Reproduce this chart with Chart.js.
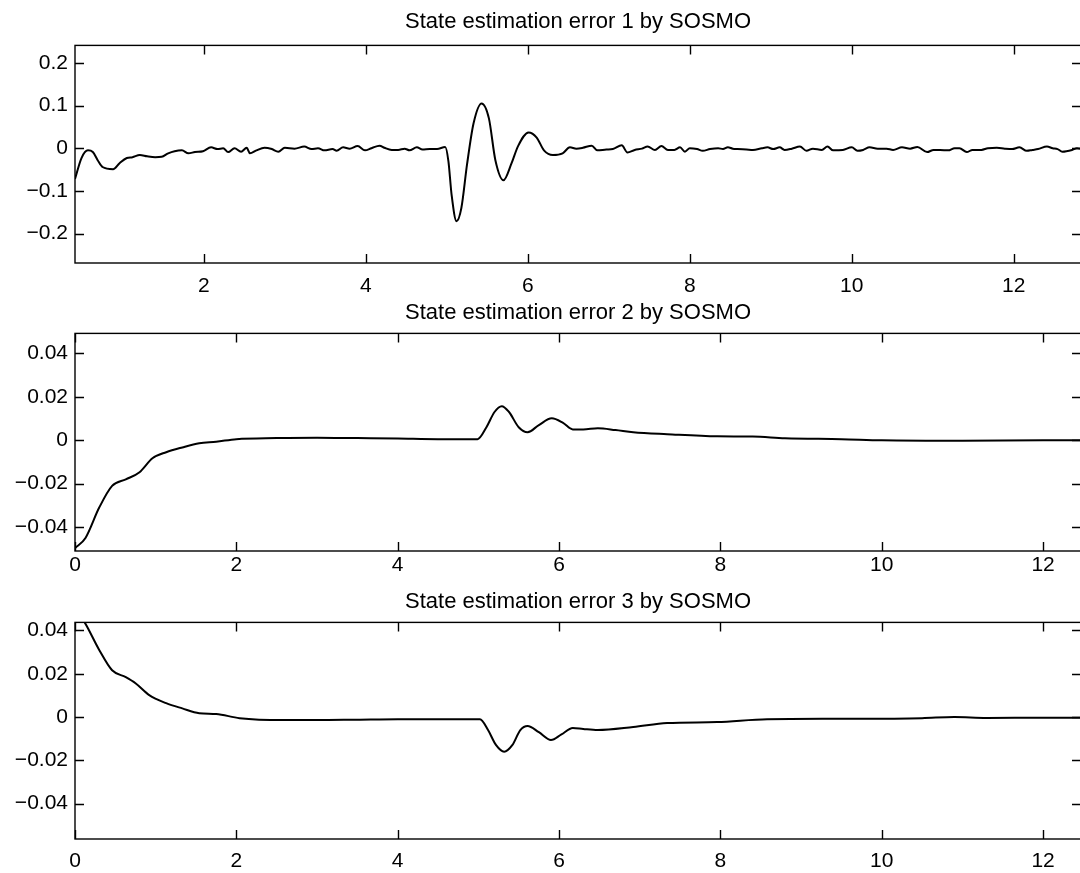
<!DOCTYPE html>
<html>
<head>
<meta charset="utf-8">
<script src="https://cdn.jsdelivr.net/npm/chart.js@4.4.0/dist/chart.umd.min.js"></script>
<style>
  html, body { margin:0; padding:0; background:#fff; }
  body { width:1080px; height:873px; overflow:hidden; position:relative; }
  canvas { position:absolute; left:0; }
</style>
</head>
<body>
<canvas id="p1" width="1090" height="298" style="top:0px"></canvas>
<canvas id="p2" width="1090" height="289" style="top:298px"></canvas>
<canvas id="p3" width="1090" height="286" style="top:587px"></canvas>
<script>
// ---- data ----
const titles = [
  "State estimation error 1 by SOSMO",
  "State estimation error 2 by SOSMO",
  "State estimation error 3 by SOSMO"
];

const time1 = [0.41,0.49,0.57,0.63,0.69,0.75,0.88,0.96,1.05,1.12,1.21,1.30,1.40,1.48,1.56,1.64,1.73,1.81,1.89,1.99,
  2.09,2.17,2.24,2.30,2.38,2.46,2.53,2.57,2.65,2.75,2.84,2.92,3.00,3.12,3.24,3.33,3.41,3.49,3.59,3.64,
  3.72,3.80,3.90,3.99,4.07,4.17,4.23,4.32,4.40,4.48,4.54,4.63,4.70,4.79,4.88,4.98,
  5.02,5.06,5.12,5.18,5.25,5.33,5.43,5.52,5.60,5.70,5.80,5.88,6.01,6.11,6.20,6.31,6.43,6.52,
  6.60,6.68,6.79,6.86,6.97,7.05,7.16,7.23,7.32,7.41,7.48,7.57,7.65,7.73,7.81,7.88,7.94,8.00,8.09,8.16,
  8.25,8.35,8.41,8.47,8.53,8.59,8.70,8.78,8.89,8.96,9.03,9.11,9.17,9.26,9.36,9.44,9.52,9.63,9.70,9.77,
  9.89,10.00,10.07,10.14,10.22,10.32,10.43,10.51,10.62,10.72,10.81,10.93,11.01,11.09,11.19,11.27,11.33,
  11.42,11.49,11.60,11.68,11.79,11.89,11.98,12.07,12.16,12.23,12.30,12.41,12.48,12.54,12.60,12.72,12.78,12.85];
const err1 = [-0.072,-0.023,-0.005,-0.009,-0.028,-0.044,-0.049,-0.035,-0.023,-0.021,-0.016,-0.019,-0.021,-0.020,-0.012,-0.007,-0.005,-0.012,-0.009,-0.007,
  0.002,-0.002,0.000,-0.009,0.000,-0.008,0.001,-0.012,-0.005,0.001,-0.002,-0.008,0.001,-0.001,0.004,-0.002,0.000,-0.005,-0.002,-0.006,
  0.002,-0.001,0.005,-0.005,0.000,0.006,0.001,-0.004,-0.004,-0.001,-0.005,0.002,-0.003,-0.002,-0.002,0.003,
  -0.030,-0.110,-0.171,-0.140,-0.038,0.058,0.105,0.070,-0.028,-0.075,-0.035,0.005,0.037,0.025,-0.005,-0.016,-0.012,0.002,
  -0.001,0.001,0.006,-0.005,-0.003,-0.002,0.007,-0.010,-0.004,-0.001,0.004,-0.004,0.005,-0.004,-0.004,0.002,-0.008,0.000,-0.002,-0.006,
  -0.002,0.000,-0.002,0.002,-0.001,-0.002,-0.003,-0.004,0.000,0.002,-0.002,0.002,-0.004,-0.001,0.004,-0.006,-0.001,-0.004,0.004,-0.005,
  -0.004,0.002,-0.006,-0.004,0.002,-0.001,-0.001,-0.004,0.002,-0.001,0.003,-0.009,-0.004,-0.004,-0.005,0.000,0.000,
  -0.009,-0.004,-0.004,0.000,0.001,-0.001,-0.002,0.002,-0.006,-0.004,-0.002,0.004,0.000,-0.002,-0.008,-0.004,0.000,-0.002];

const time2 = [0,0.13,0.30,0.46,0.63,0.80,0.96,1.13,1.33,1.54,1.75,2.0,2.5,3.0,3.5,4.0,4.5,4.99,
  5.10,5.20,5.29,5.38,5.50,5.61,5.75,5.91,6.05,6.17,6.30,6.48,6.70,6.92,7.34,7.96,8.40,8.80,9.50,10.0,11.0,12.0,12.5];
const err2 = [-0.0497,-0.045,-0.031,-0.021,-0.018,-0.0147,-0.0083,-0.0055,-0.0033,-0.0014,-0.0007,0.0005,0.001,0.0012,0.001,0.0008,0.0005,0.0005,
  0.006,0.013,0.0157,0.013,0.006,0.0037,0.007,0.0101,0.008,0.005,0.005,0.0055,0.0047,0.0037,0.0028,0.0018,0.0017,0.0009,0.0005,0.0,-0.0002,0.0,0.0];

const time3 = [0,0.12,0.30,0.46,0.63,0.75,0.92,1.13,1.33,1.54,1.75,2.04,2.57,3.0,3.5,4.0,4.5,5.02,
  5.12,5.22,5.32,5.42,5.52,5.61,5.75,5.90,6.03,6.17,6.30,6.48,6.92,7.34,7.96,8.58,9.5,10.5,10.9,11.3,12.0,12.5];
const err3 = [0.05,0.0437,0.031,0.0216,0.0184,0.0156,0.0101,0.0064,0.004,0.0018,0.0014,-0.0005,-0.0014,-0.0014,-0.0012,-0.001,-0.001,-0.001,
  -0.006,-0.013,-0.016,-0.013,-0.006,-0.0041,-0.007,-0.0106,-0.008,-0.005,-0.0055,-0.006,-0.0046,-0.0028,-0.0023,-0.001,-0.0008,-0.0005,0.0,-0.0004,-0.0003,-0.0003];

const xTicks1 = [2,4,6,8,10,12];
const xTicks23 = [0,2,4,6,8,10,12];
const yTicks1 = [-0.2,-0.1,0,0.1,0.2];
const yTicks23 = [-0.04,-0.02,0,0.02,0.04];

const FONT = "'Liberation Sans', Arial, Helvetica, sans-serif";

// matlab-like box with inward ticks on all sides
const frameTicks = {
  id: "frameTicks",
  afterDraw(chart) {
    const { ctx, chartArea: a, scales: { x, y } } = chart;
    const tl = 9;
    ctx.save();
    ctx.strokeStyle = "#000";
    ctx.lineWidth = 1.4;
    ctx.strokeRect(a.left, a.top, a.right - a.left, a.bottom - a.top);
    ctx.beginPath();
    x.ticks.forEach(t => {
      const px = Math.round(x.getPixelForValue(t.value)) + 0.5;
      ctx.moveTo(px, a.bottom); ctx.lineTo(px, a.bottom - tl);
      ctx.moveTo(px, a.top);    ctx.lineTo(px, a.top + tl);
    });
    y.ticks.forEach(t => {
      const py = Math.round(y.getPixelForValue(t.value)) + 0.5;
      ctx.moveTo(a.left, py);  ctx.lineTo(a.left + tl, py);
      ctx.moveTo(a.right, py); ctx.lineTo(a.right - tl, py);
    });
    ctx.stroke();
    ctx.restore();
  }
};

const fmt = v => (v === 0 ? "0" : String(v).replace("-", "\u2212"));
const noGrid = { display: false, drawTicks: false, tickLength: 0 };

function makePanel(id, title, xs, ys, o) {
  new Chart(document.getElementById(id), {
    type: "line",
    data: {
      datasets: [{
        data: xs.map((t, i) => ({ x: t, y: ys[i] })),
        borderColor: "#000",
        borderWidth: 2,
        pointRadius: 0,
        cubicInterpolationMode: "monotone",
        fill: false
      }]
    },
    options: {
      responsive: false,
      animation: false,
      events: [],
      layout: { padding: { left: 0, right: 9, top: 0, bottom: 0 } },
      plugins: {
        legend: { display: false },
        tooltip: { enabled: false },
        title: {
          display: true,
          text: title,
          fullSize: false,
          color: "#000",
          font: { family: FONT, size: 22, weight: "normal" },
          padding: o.titlePad
        }
      },
      scales: {
        x: {
          type: "linear",
          min: o.xMin, max: o.xMax,
          grid: noGrid,
          border: { display: false },
          afterBuildTicks: s => { s.ticks = o.xTicks.map(v => ({ value: v })); },
          afterFit: s => { s.height = o.xAxisH; },
          ticks: { color: "#000", font: { family: FONT, size: 21 }, padding: o.xPad, maxRotation: 0, callback: fmt }
        },
        y: {
          min: o.yMin, max: o.yMax,
          grid: noGrid,
          border: { display: false },
          afterBuildTicks: s => { s.ticks = o.yTicks.map(v => ({ value: v })); },
          afterFit: s => { s.width = 75; },
          ticks: { color: "#000", font: { family: FONT, size: 21 }, padding: 7, callback: fmt }
        }
      }
    },
    plugins: [frameTicks]
  });
}

makePanel("p1", titles[0], time1, err1, {
  xMin: 0.41, xMax: 12.83, yMin: -0.269, yMax: 0.241,
  xTicks: xTicks1, yTicks: yTicks1, xAxisH: 35, xPad: 11,
  titlePad: { top: 9, bottom: 10 }
});
makePanel("p2", titles[1], time2, err2, {
  xMin: 0, xMax: 12.47, yMin: -0.051, yMax: 0.0492,
  xTicks: xTicks23, yTicks: yTicks23, xAxisH: 36, xPad: 2,
  titlePad: { top: 2, bottom: 7 }
});
makePanel("p3", titles[2], time3, err3, {
  xMin: 0, xMax: 12.47, yMin: -0.0563, yMax: 0.0437,
  xTicks: xTicks23, yTicks: yTicks23, xAxisH: 34, xPad: 10,
  titlePad: { top: 2, bottom: 7 }
});
</script>
</body>
</html>
